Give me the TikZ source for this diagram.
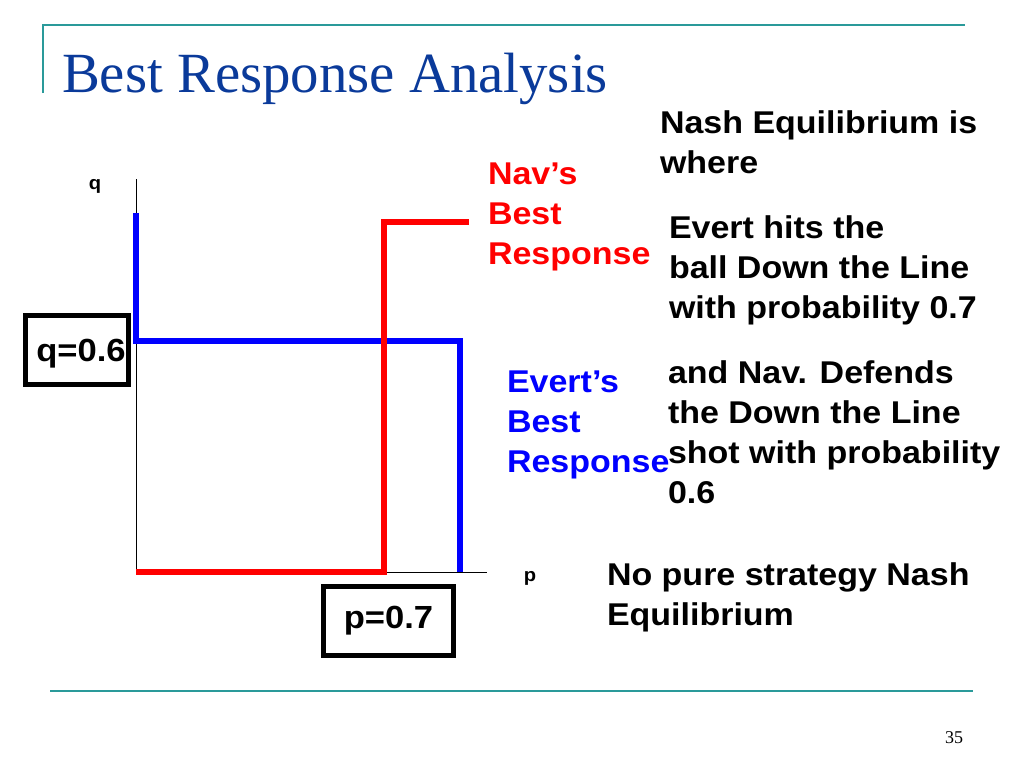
\documentclass[tikz,border=0pt]{standalone}
\usepackage{fontspec}
\setmainfont{Liberation Serif}
\newfontfamily\armfont{Liberation Sans}[FakeStretch=1.08]
\usepackage{xcolor}
\definecolor{mred}{HTML}{FF0000}
\definecolor{mblue}{HTML}{0000FF}
\definecolor{mteal}{HTML}{2A9A9A}
\definecolor{mnavy}{HTML}{0A3A9A}
\usepackage{tikz}
\usetikzlibrary{positioning}

\begin{document}
\begin{tikzpicture}[x=0.75pt, y=-0.75pt,
    every node/.style={inner sep=0pt, outer sep=0pt},
    txt/.style={font=\armfont\bfseries\fontsize{23.6}{30}\selectfont, align=left, anchor=base west},
    small/.style={font=\armfont\bfseries\fontsize{14}{16}\selectfont},
    valbox/.style={draw, line width=3.8pt, minimum height=52pt, font=\armfont\bfseries\fontsize{24}{28}\selectfont},
    resp/.style={line width=4.5pt},
    rule/.style={mteal, line width=2pt}]

            \useasboundingbox (0,0) rectangle (1024,768);

            % slide frame
            \draw[rule] (43,93) -- (43,25) coordinate (tl) -- (965,25) coordinate (tr);
            \draw[rule] (50,691) coordinate (bl) -- (973,691) coordinate (br);
            \node[anchor=base west, font=\fontsize{42.6}{48}\selectfont, text=mnavy] (title) at (62,92) {Best Response Analysis};
            \node[anchor=base, font=\fontsize{13.5}{16}\selectfont] (page) at (954,743) {35};

            % axes
            \draw[line width=0.75pt] (136,179) coordinate (qtop) -- (136,572) coordinate (o) -- (487,572) coordinate (pend);
            \node[small] (qlab) at (95,186) {q};
            \node[small] (plab) at (530,578) {p};

            % best responses
            \draw[resp, mblue] (136,213) coordinate (e0) -- (136,341) coordinate (e1) -- (460,341) coordinate (e2) -- (460,572) coordinate (e3);
            \draw[resp, mred] (136,572) coordinate (n0) -- (384,572) coordinate (n1) -- (384,222) coordinate (n2) -- (469,222) coordinate (n3);

            \node[valbox, minimum width=77pt, text depth=0pt] (qval) at (77,350) {\hspace{6pt}q=0.6};
            \node[valbox, minimum width=97.5pt] (pval) at (388.5,621) {p=0.7};

            % labels (anchored at the last line)
            \node[txt, text=mred] (navbr) at (488,264) {Nav’s\\Best\\Response};
            \node[txt, text=mblue] (evbr) at (507,472) {Evert’s\\Best\\Response};
            \node[txt] (nash) at (660,173) {Nash Equilibrium is\\where};
            \node[txt] (evert) at (669,318) {Evert hits the\\ball Down the Line\\with probability 0.7};
            \node[txt] (nav) at (668,503) {and Nav. Defends\\the Down the Line\\shot with probability\\0.6};
            \node[txt] (nopure) at (607,625) {No pure strategy Nash\\Equilibrium};

          \end{tikzpicture}
\end{document}
